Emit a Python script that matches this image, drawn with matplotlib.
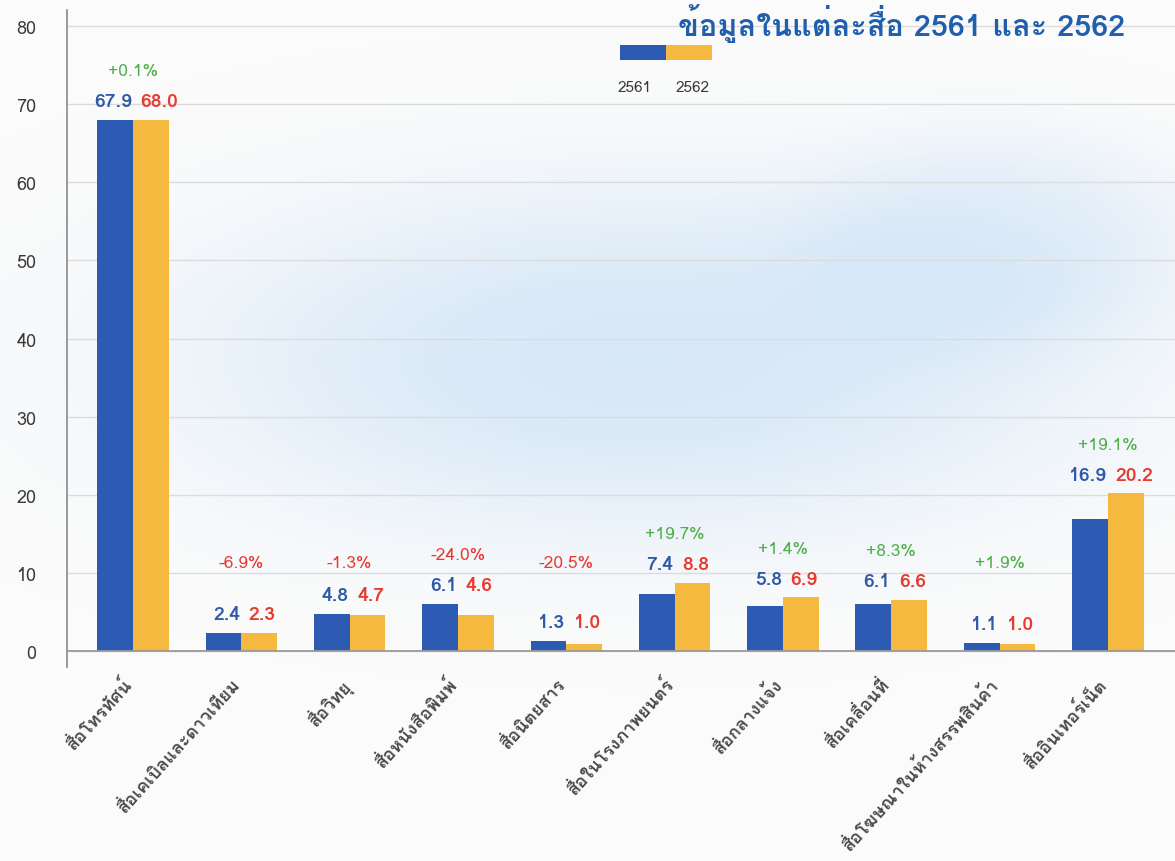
import numpy as np
import matplotlib
matplotlib.use("Agg")
import matplotlib.pyplot as plt
from matplotlib import font_manager
from matplotlib.ft2font import FT2Font
from matplotlib.patches import Rectangle

# ---------------- data ----------------
categories = ["สื่อโทรทัศน์", "สื่อเคเบิลและดาวเทียม", "สื่อวิทยุ", "สื่อหนังสือพิมพ์",
              "สื่อนิตยสาร", "สื่อในโรงภาพยนตร์", "สื่อกลางแจ้ง", "สื่อเคลื่อนที่",
              "สื่อโฆษณาในห้างสรรพสินค้า", "สื่ออินเทอร์เน็ต"]
values_2561 = [67.9, 2.4, 4.8, 6.1, 1.3, 7.4, 5.8, 6.1, 1.1, 16.9]
values_2562 = [68.0, 2.3, 4.7, 4.6, 1.0, 8.8, 6.9, 6.6, 1.0, 20.2]
changes = ["+0.1%", "-6.9%", "-1.3%", "-24.0%", "-20.5%", "+19.7%", "+1.4%", "+8.3%", "+1.9%", "+19.1%"]
series_names = ["2561", "2562"]
yticks = [0, 10, 20, 30, 40, 50, 60, 70, 80]
title = "ข้อมูลในแต่ละสื่อ 2561 และ 2562"

# ---------------- fonts ----------------
def find_thai_font():
    seen = set()
    for f in font_manager.fontManager.ttflist:
        if f.fname in seen:
            continue
        seen.add(f.fname)
        try:
            cm = FT2Font(f.fname).get_charmap()
            if 0x0E2A in cm and 0x0E37 in cm:
                return f.name
        except Exception:
            pass
    return None

thai = find_thai_font()
fams = ([thai] if thai else []) + ["DejaVu Sans"]
plt.rcParams['font.family'] = fams

BLUE = "#2d5bb3"
YELLOW = "#f5b940"
VAL_BLUE = "#2f5aa8"
VAL_RED = "#e83a2e"
GREEN = "#4fae48"
TEXT = "#3a3a3a"

W, H = 1175, 862
fig = plt.figure(figsize=(W / 100, H / 100), dpi=100, facecolor="#fbfbfb")

# soft watercolour-like background wash
bg = fig.add_axes([0, 0, 1, 1], zorder=-5)
yy, xx = np.mgrid[0:H, 0:W]
blob = np.exp(-(((xx - 640) / 450.0) ** 2 + ((yy - 360) / 175.0) ** 2) ** 1.3)
blob += 0.6 * np.exp(-(((xx - 1000) / 200.0) ** 2 + ((yy - 240) / 110.0) ** 2) ** 1.5)
blob = np.clip(blob, 0, 1)
img = np.zeros((H, W, 4))
img[..., 0] = 0.80
img[..., 1] = 0.89
img[..., 2] = 0.97
img[..., 3] = 0.75 * blob
bg.imshow(img, aspect="auto", extent=[0, 1, 0, 1])
bg.set_xlim(0, 1)
bg.set_ylim(0, 1)
bg.axis("off")

ax = fig.add_axes([0.057, 0.225, 0.943, 0.762])
ax.set_facecolor("none")

x = np.arange(len(categories))
bw = 0.33
ax.bar(x - bw / 2, values_2561, width=bw, color=BLUE, zorder=3)
ax.bar(x + bw / 2, values_2562, width=bw, color=YELLOW, zorder=3)

for i in range(len(categories)):
    top = max(values_2561[i], values_2562[i])
    vy = top + 2.4
    ax.text(x[i] - 0.01, vy, f"{values_2561[i]:.1f}", color=VAL_BLUE, fontsize=14,
            fontweight="bold", ha="right", va="center", zorder=5)
    ax.text(x[i] + 0.07, vy, f"{values_2562[i]:.1f}", color=VAL_RED, fontsize=14,
            fontweight="bold", ha="left", va="center", zorder=5)
    py = max(top + 6.2, 11.3)
    col = GREEN if changes[i].startswith("+") else VAL_RED
    ax.text(x[i], py, changes[i], color=col, fontsize=12.5, ha="center", va="center", zorder=5)

ax.set_xlim(-0.61, len(categories) - 1 + 0.62)
ax.set_ylim(-2, 82)
ax.set_yticks(yticks)
ax.set_yticklabels([str(t) for t in yticks], fontsize=13, color=TEXT)
ax.yaxis.grid(True, color="#dcdcdc", linewidth=1, zorder=0)
ax.set_axisbelow(True)
ax.axhline(0, color="#9a9a9a", linewidth=1.3, zorder=4)
ax.tick_params(axis="y", length=0, pad=22)
ax.tick_params(axis="x", length=0, pad=5)
for s in ["top", "right", "bottom"]:
    ax.spines[s].set_visible(False)
ax.spines["left"].set_color("#8a8a8a")
ax.spines["left"].set_linewidth(1.2)

ax.set_xticks(x - 0.1)
ax.set_xticklabels(categories, rotation=48, ha="right", rotation_mode="anchor",
                   fontsize=13, fontweight="bold", color="#4a4a4a")

# legend
lx0, ly0 = 620 / W, 1 - 61 / H
lw, lh = 46 / W, 15 / H
fig.patches.append(Rectangle((lx0, ly0), lw, lh, transform=fig.transFigure,
                             facecolor=BLUE, edgecolor="none"))
fig.patches.append(Rectangle((lx0 + lw, ly0), lw, lh, transform=fig.transFigure,
                             facecolor=YELLOW, edgecolor="none"))
fig.text(618 / W, 1 - 88 / H, series_names[0], fontsize=11, color=TEXT, ha="left", va="center")
fig.text(676 / W, 1 - 88 / H, series_names[1], fontsize=11, color=TEXT, ha="left", va="center")

# title
fig.text(1125 / W, 1 - 4 / H, title, fontsize=22, fontweight="bold", color="#1f5fae",
         ha="right", va="top")

fig.savefig("out.png", dpi=100, facecolor=fig.get_facecolor())
